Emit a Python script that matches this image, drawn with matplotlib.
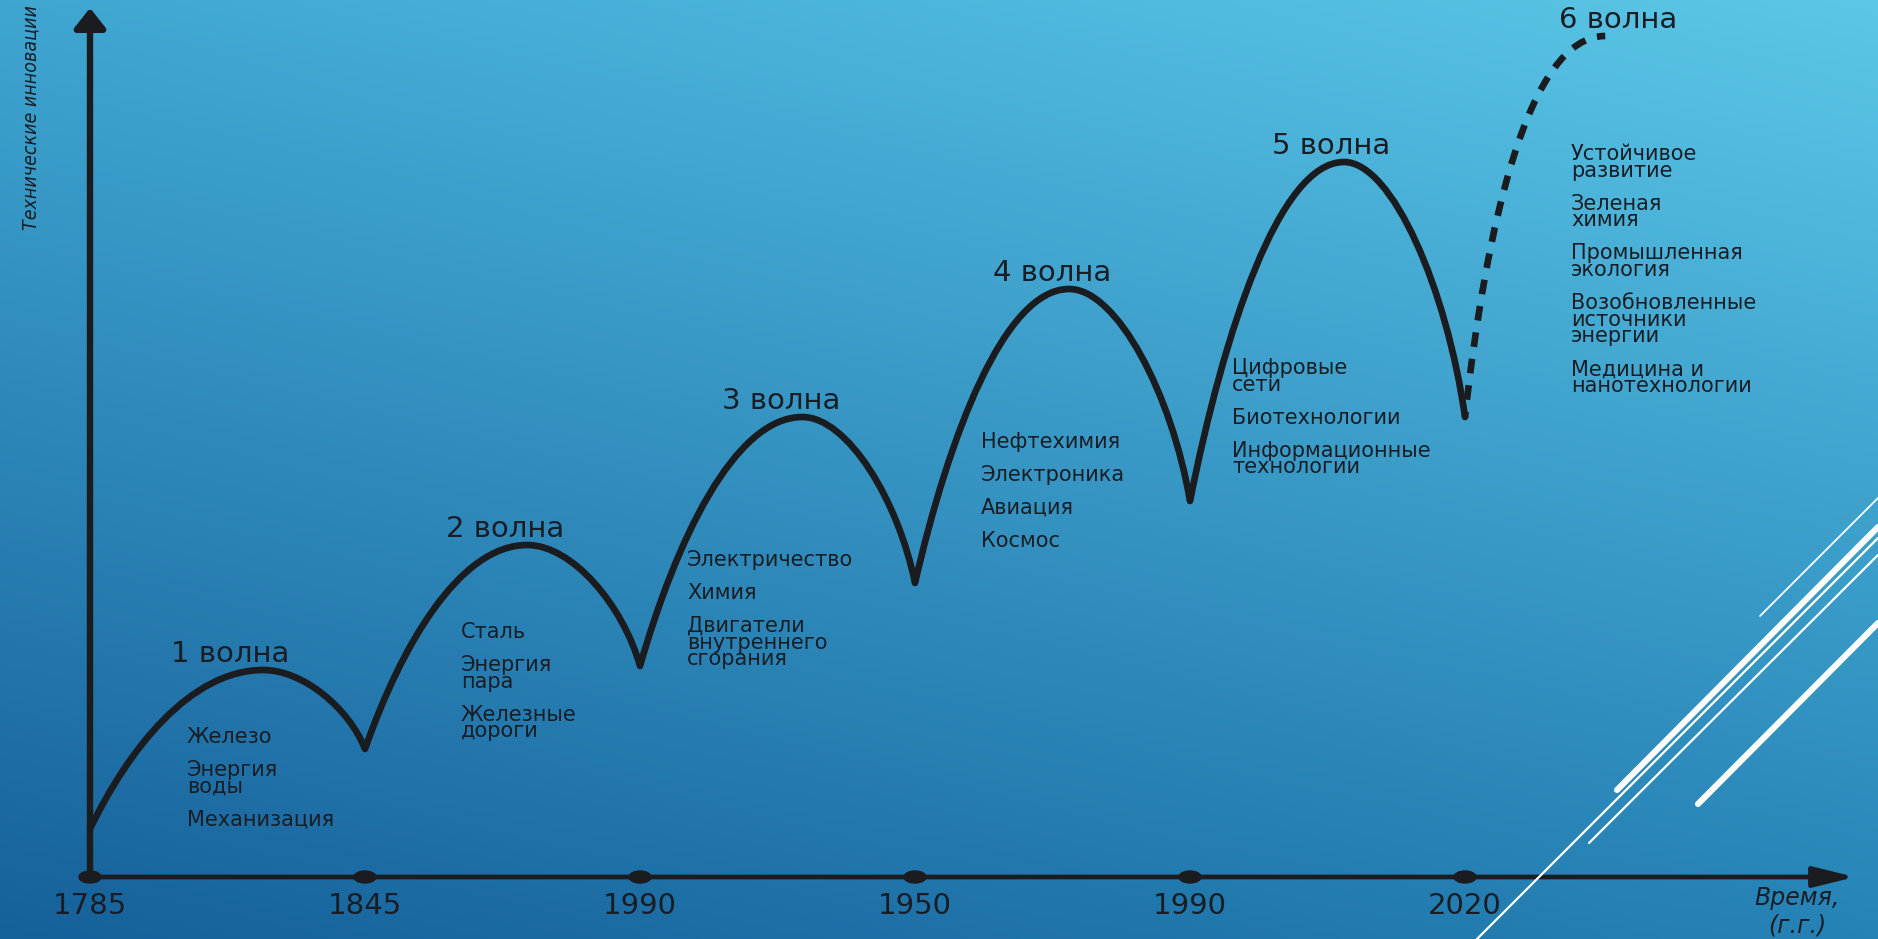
import matplotlib
matplotlib.use('Agg')
import matplotlib.pyplot as plt
import matplotlib.path as mpath
import matplotlib.patches as patches
from matplotlib.lines import Line2D
from matplotlib import font_manager
import numpy as np

plt.rcParams['font.family'] = ['DejaVu Sans']

# ---- data -------------------------------------------------------------
years = ['1785', '1845', '1990', '1950', '1990', '2020']
tick_x = [0, 1, 2, 3, 4, 5]

# curve levels (arbitrary units): troughs sit on the year ticks
trough_y = [0.48, 1.28, 2.11, 2.94, 3.76, 4.60]
peak_x = [0.63, 1.59, 2.59, 3.56, 4.56]
peak_y = [2.07, 3.32, 4.60, 5.88, 7.15]
wave6_end = [5.51, 8.41]

wave_names = ['1 волна', '2 волна', '3 волна', '4 волна', '5 волна', '6 волна']

wave_items = [
    ['Железо', 'Энергия\nводы', 'Механизация'],
    ['Сталь', 'Энергия\nпара', 'Железные\nдороги'],
    ['Электричество', 'Химия', 'Двигатели\nвнутреннего\nсгорания'],
    ['Нефтехимия', 'Электроника', 'Авиация', 'Космос'],
    ['Цифровые\nсети', 'Биотехнологии', 'Информационные\nтехнологии'],
    ['Устойчивое\nразвитие', 'Зеленая\nхимия', 'Промышленная\nэкология',
     'Возобновленные\nисточники\nэнергии', 'Медицина и\nнанотехнологии'],
]

y_label = 'Технические инновации'
x_label = ['Время,', '(г.г.)']

# ---- layout (pixels of the 1878x939 picture) ---------------------------
W, H = 1878, 939
X0, Y0, XU, YU = 90, 877, 275, 100      # origin and unit sizes


def px(x, y):
    return (x - X0) / XU, (Y0 - y) / YU


item_pos = [(187, 737), (461, 632), (687, 560), (981, 442), (1232, 368), (1571, 154)]
title_dx = [-33, -22, -21, -17, -13, 13]
line_step = 16.7
item_step = 33

dark = '#1b1c1f'
txt = '#1a1e24'

fig = plt.figure(figsize=(W / 100, H / 100), dpi=100)
ax = fig.add_axes([0, 0, 1, 1])
xl = (px(0, 0)[0], px(W, 0)[0])
yl = (px(0, H)[1], px(0, 0)[1])

# background gradient
tl = np.array([63, 166, 209]) / 255
tr = np.array([92, 199, 232]) / 255
bl = np.array([22, 96, 154]) / 255
br = np.array([38, 131, 182]) / 255
yy, xx = np.mgrid[0:1:200j, 0:1:400j]
yy, xx = yy[..., None], xx[..., None]
bg = (1 - yy) * ((1 - xx) * tl + xx * tr) + yy * ((1 - xx) * bl + xx * br)
ax.imshow(bg, extent=[xl[0], xl[1], yl[0], yl[1]], origin='upper',
          aspect='auto', zorder=0, interpolation='bilinear')

# axes arrows
ax.annotate('', xy=(0, px(0, 8)[1]), xytext=(0, 0),
            arrowprops=dict(arrowstyle='-|>,head_length=1.2,head_width=0.95',
                            lw=4.6, color=dark, shrinkA=0, shrinkB=0,
                            mutation_scale=10), zorder=3)
ax.annotate('', xy=(px(1855, 0)[0], 0), xytext=(0, 0),
            arrowprops=dict(arrowstyle='-|>,head_length=2.5,head_width=0.62',
                            lw=3.4, color=dark, shrinkA=0, shrinkB=0,
                            mutation_scale=10), zorder=3)

for x, lab in zip(tick_x, years):
    ax.add_patch(patches.Ellipse((x, 0), 22 / XU, 12 / YU, color=dark, zorder=5))
    ax.text(x, px(0, 903)[1], lab, ha='center', va='center_baseline',
            fontsize=21, color=txt, zorder=5)

# waves 1-5, solid
Path = mpath.Path
verts = [(tick_x[0], trough_y[0])]
codes = [Path.MOVETO]
for i in range(5):
    x0, y0 = tick_x[i], trough_y[i]
    xp, yp = peak_x[i], peak_y[i]
    x1, y1 = tick_x[i + 1], trough_y[i + 1]
    dx, dy = xp - x0, yp - y0
    verts += [(x0 + 0.22 * dx, y0 + 0.5 * dy), (x0 + 0.58 * dx, yp), (xp, yp)]
    dx2, dy2 = x1 - xp, yp - y1
    verts += [(xp + 0.4 * dx2, yp), (xp + 0.85 * dx2, yp - 0.5 * dy2), (x1, y1)]
    codes += [Path.CURVE4] * 6
ax.add_patch(patches.PathPatch(Path(verts, codes), facecolor='none',
                               edgecolor=dark, lw=4.8, capstyle='round',
                               joinstyle='round', zorder=4))

# wave 6, dashed
x0, y0 = tick_x[5], trough_y[5]
xe, ye = wave6_end
dx, dy = xe - x0, ye - y0
v6 = [(x0, y0), (x0 + 0.15 * dx, y0 + 0.5 * dy), (x0 + 0.45 * dx, ye), (xe, ye)]
ax.add_patch(patches.PathPatch(Path(v6, [Path.MOVETO] + [Path.CURVE4] * 3),
                               facecolor='none', edgecolor=dark, lw=4.8,
                               linestyle=(1.4, (2.2, 1.8)), capstyle='butt',
                               zorder=4))

# wave titles
tops = list(zip(peak_x, peak_y)) + [tuple(wave6_end)]
for (xp, yp), name, ddx in zip(tops, wave_names, title_dx):
    ax.text(xp + ddx / XU, yp + 0.08, name, ha='center', va='baseline',
            fontsize=21, color=txt, zorder=5)

# innovation lists
for items, (ix, iy) in zip(wave_items, item_pos):
    y = iy
    for item in items:
        for line in item.split('\n'):
            tx, ty = px(ix, y + 6)
            ax.text(tx, ty, line, ha='left', va='baseline', fontsize=15,
                    color=txt, zorder=5)
            y += line_step
        y += item_step - line_step

# axis labels
try:
    font_manager.findfont(font_manager.FontProperties(family='Liberation Sans Narrow'),
                          fallback_to_default=False)
    yl_family, yl_size = ['Liberation Sans Narrow', 'DejaVu Sans'], 19
except ValueError:
    yl_family, yl_size = ['DejaVu Sans'], 14
tx, ty = px(31, 118)
ax.text(tx, ty, y_label, rotation=90, ha='center', va='center', fontsize=yl_size,
        family=yl_family, style='italic', stretch='condensed', color=txt, zorder=5)
for line, yb in zip(x_label, [905, 932]):
    tx, ty = px(1797, yb)
    ax.text(tx, ty, line, ha='center', va='baseline', fontsize=17, style='italic',
            color=txt, zorder=5)

# decorative white strokes (figure fractions)
deco = [((1760, 616), (1878, 498), 1.3),
        ((1617, 790), (1878, 527), 4.4),
        ((1477, 939), (1878, 538), 1.6),
        ((1589, 843), (1878, 555), 1.6),
        ((1698, 804), (1878, 623), 4.4)]
for (xa, ya), (xb, yb), lw in deco:
    fig.add_artist(Line2D([xa / W, xb / W], [1 - ya / H, 1 - yb / H], lw=lw,
                          color='white', solid_capstyle='round',
                          transform=fig.transFigure, zorder=6))

ax.set_xlim(*xl)
ax.set_ylim(*yl)
ax.axis('off')

fig.savefig('out.png', dpi=100)
